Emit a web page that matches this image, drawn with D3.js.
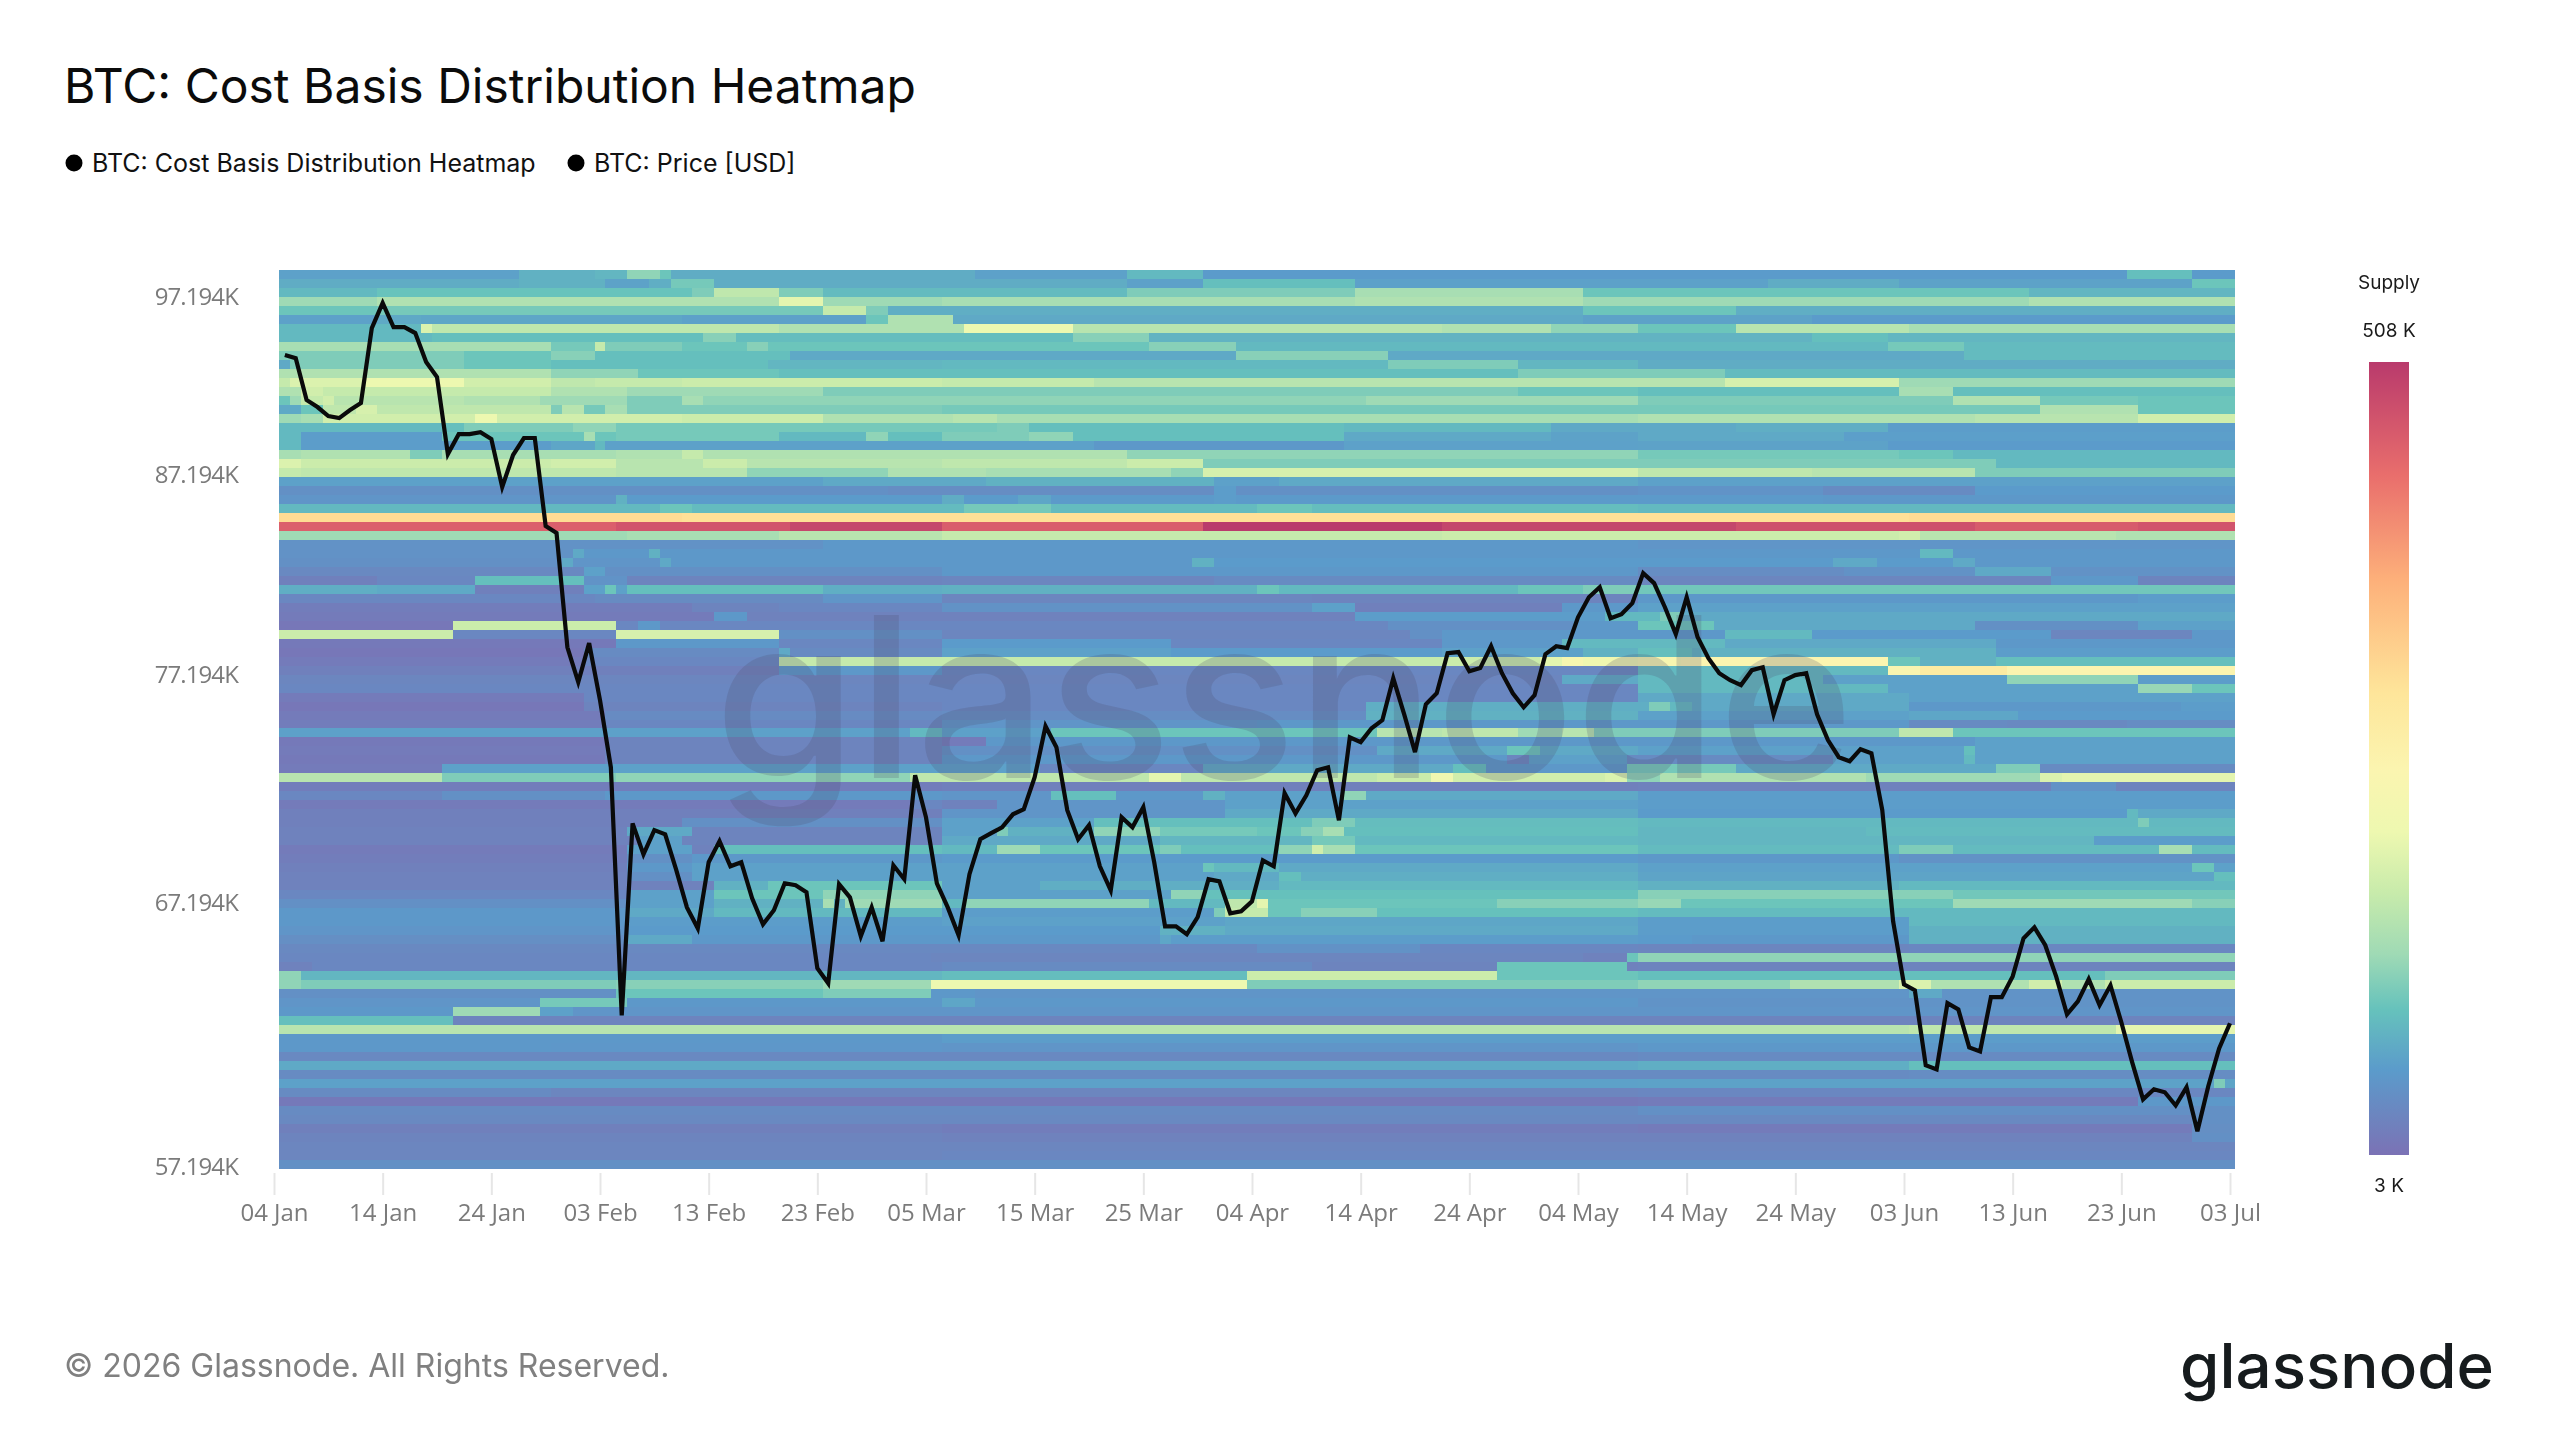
<!DOCTYPE html>
<html lang="en">
<head>
<meta charset="utf-8">
<title>BTC: Cost Basis Distribution Heatmap</title>
<script src="https://cdn.jsdelivr.net/npm/d3@7"></script>
<style>
  html, body { margin: 0; background: #fff; }
  svg { display: block; }
  text { font-family: Inter, "Noto Sans", sans-serif; }
  .axis text { font-family: "Open Sans", "Noto Sans", sans-serif; fill: #7b7b7b; font-size: 24px; }
  .axis line { stroke: #e6e6e6; stroke-width: 2px; }
  .axis path { display: none; }
  .y-axis text { letter-spacing: -0.9px; }
</style>
</head>
<body>
<svg id="chart" width="2560" height="1440"></svg>
<script>
// Daily BTC close in thousands of USD, starting 05 Jan
const priceK = [
  93.82,93.64,91.28,90.89,90.39,90.28,90.72,91.11,95.37,96.84,95.43,95.43,95.08,93.42,92.57,88.32,89.40,89.40,89.51,89.13,
  86.56,88.27,89.19,89.19,84.53,84.17,78.51,76.86,78.71,76.02,72.97,62.73,70.52,69.20,70.23,70.05,68.57,67.00,66.15,68.87,
  69.76,68.70,68.87,67.37,66.31,66.88,67.99,67.91,67.62,64.56,63.97,67.95,67.41,65.83,67.00,65.63,68.74,68.16,72.62,70.78,
  67.99,67.00,65.87,68.37,69.84,70.10,70.35,70.91,71.13,72.53,74.82,73.87,71.09,69.84,70.44,68.70,67.70,70.78,70.35,71.22,
  68.87,66.23,66.23,65.91,66.60,68.16,68.07,66.76,66.84,67.25,68.95,68.70,71.83,70.95,71.74,72.84,72.97,70.65,74.32,74.10,
  74.73,75.10,77.04,75.37,73.65,75.83,76.34,78.23,78.28,77.37,77.52,78.56,77.28,76.34,75.69,76.25,78.18,78.56,78.47,79.96,
  80.94,81.44,79.91,80.11,80.65,82.14,81.64,80.45,79.14,80.94,79.00,77.99,77.28,76.95,76.72,77.42,77.56,75.37,76.95,77.19,
  77.28,75.37,74.19,73.42,73.24,73.78,73.60,71.09,66.43,63.93,63.70,60.85,60.70,63.20,62.96,61.52,61.37,63.43,63.43,64.24,
  65.75,66.19,65.47,64.24,62.77,63.27,64.13,63.12,63.89,62.47,60.96,59.60,59.97,59.86,59.38,60.04,58.45,60.08,61.48,62.43
];

// Supply held per price bucket (thousands of BTC), top bucket first.
// Each bucket lists alternating day offset and supply, holding until the next offset.
const supplyK = [
  [0,5.5,22,6.5,29,6.8,32,10,35,8,36,6.2,64,5.5,78,7,85,5.2,170,7.5,176,5.2],
  [0,6.2,22,6.5,30,5.6,34,6.3,36,8.5,40,6.2,78,5.5,85,7.5,99,5.5,137,6.2,149,5.6,176,8],
  [0,7,9,7.8,38,9,40,15,46,9,50,7.2,78,9,99,12,120,8,161,6.8],
  [0,11,9,13,46,22,50,11,61,12,99,13,120,11,161,13],
  [0,8,9,8.5,50,16,54,9,56,6.3,120,8,134,6.3],
  [0,5.5,9,6,13,5.8,37,5.5,54,8,56,13,62,6,120,5.6,141,5.2],
  [0,7,13,20,14,15,46,13,63,24,73,14,107,13,117,10,125,8,134,14,150,12],
  [0,7,14,7.5,39,9.5,42,7.3,73,9.5,80,6.6,141,7.5,148,6.8],
  [0,12,25,8.5,29,16,30,9,37,8,43,9.5,45,8,80,9.5,88,7,148,8.5,155,7.2],
  [0,9,17,8,25,9.5,29,7.5,47,6,88,9.5,102,6,151,6.2,155,7.2],
  [0,6,1,9,17,8,25,7.5,45,6.8,61,7,102,9,114,6.8,125,6.2],
  [0,13,25,10,33,8,46,7.5,114,9,133,7.2],
  [0,16,1,20,8,24,17,18,25,15,29,16,37,17,61,16,75,14,133,19,149,11],
  [0,13,2,18,4,16,25,13,32,11,50,9,114,8,125,7.5,149,12,154,7.5],
  [0,8,1,11,2,16,4,18,5,14,17,13,24,11,32,9,37,12,39,10,100,11,125,9,154,13,162,8.5,171,8],
  [0,6,2,8,4,15,7,19,9,15,25,9,26,14,28,8.5,30,12,32,9,61,8.5,162,13,171,8],
  [0,11,2,12,4,18,18,24,20,18,37,17,50,13,62,14,66,12,125,13,156,14,171,18],
  [0,7,15,7.5,17,9,27,10,31,8.5,66,9,69,7.5,98,7,117,6,134,6.3,148,5.3],
  [0,7,2,5.3,15,8,28,12,29,8,31,8.5,46,7,54,10,56,7.5,61,9,69,10,73,7.5,98,6,117,5.6,125,6,144,5.4],
  [0,7,2,5.3,25,5.8,29,7,30,5.5,75,5,98,5.5,125,5.6,148,5.2],
  [0,12,2,13,12,9,15,12,31,13,37,16,39,13,78,10,125,8.5,149,8,154,7],
  [0,20,2,17,25,18,31,14,39,17,43,14,61,15,78,17,85,9,158,7],
  [0,16,2,15,31,14,43,10,56,13,65,12,82,10,85,19,125,15,141,14,156,9],
  [0,5.5,50,6,65,6.5,86,5.5,92,6,125,5.5],
  [0,4.5,56,4.3,86,5.3,88,4.5,125,4.7,142,4.2,156,5.2],
  [0,4.8,31,6.5,32,5.2,61,6.2,63,5.2,68,5.8,71,5.1,86,5.3,88,5.1,142,5],
  [0,7,35,8,38,7.2,63,8.5,71,7.2,90,8,95,7.3,125,7],
  [0,68,37,64,150,68],
  [0,300,31,350,47,420,61,310,85,500,107,430,134,370,156,320,171,350],
  [0,11,32,12,46,14,61,16,107,17,149,18,151,14,169,13],
  [0,4.6,50,5,125,4.8],
  [0,4.6,27,6,28,5,34,6.5,35,5,151,7,154,5],
  [0,4.5,26,6,27,4.8,35,6,36,5,84,6.5,86,5.2,143,6,147,5.2,154,6,156,5],
  [0,4.1,28,5.5,30,4.5,61,5,125,4.3,144,4.6,156,6,163,4.6],
  [0,3.6,9,4,18,7.5,28,4.7,32,3.8,61,3.9,86,4.2,125,3.9,163,5,171,3.8],
  [0,6.3,9,6,18,3.6,28,5.5,30,8,31,5.5,32,7.5,50,6.3,61,6.5,90,8,92,7,114,8,120,9,125,8.3],
  [0,4,29,4.2,50,4.8,61,3.9,95,3.8,125,5,171,5.3],
  [0,3.5,38,3.8,46,4,61,4.6,95,5.5,99,3.6,118,5,125,5.5],
  [0,3.4,40,5,43,3.7,99,5.3,122,7,127,9,129,6],
  [0,3.2,16,17,31,4,33,5,35,4,102,4.5,119,5,125,8,132,6,156,4.5,171,5.5],
  [0,17,16,4,31,19,46,4.5,61,3.9,104,4.5,107,5,133,7,141,5.2,163,3.9,176,5],
  [0,3.3,31,5,46,4,61,5.2,82,4,107,5,118,7,133,6,158,5],
  [0,3.2,28,4.2,46,6,47,4.2,61,5.5,82,5.2,107,5.5,120,6.5,125,7.5,130,6.5,158,5.3],
  [0,3.4,28,4,46,16,107,17,116,22,118,32,120,26,125,32,129,36,148,8,151,6.5,158,7.5],
  [0,3.6,46,5,61,4,125,7,148,34,151,50,159,37],
  [0,3.9,118,6,125,7,142,5.5,159,10,171,5.3],
  [0,4,125,7,148,5.5,171,10.5,176,8],
  [0,3.4,28,4,125,6,150,5.5],
  [0,3.2,28,3.8,61,4,100,6.3,126,9,128,7,130,6,150,5,175,5.3],
  [0,3.4,30,4.2,61,4.3,100,6.5,125,5.5,150,5.8,160,5.2],
  [0,3.5,30,4,61,4.8,90,5,150,4.2,159,4.1,170,4.3],
  [0,5.5,58,7,61,5.5,71,8,101,14,107,15,114,11,118,14,121,9,142,9,149,15,154,8],
  [0,3.3,30,3.8,61,3.4,65,5,156,5.5],
  [0,3.4,30,3.8,61,4.5,101,6,113,8,116,6,125,5.5,155,7.5,156,5.5],
  [0,3.3,30,3.8,61,5,113,3.9,115,5.5,124,4.2,143,5.5,155,7,156,5.5],
  [0,3.4,15,5.5,70,4,85,6,108,7.5,111,5,124,8.5,134,6,158,9,162,4.2],
  [0,14,15,9,31,10,58,15,80,22,83,15,94,15,101,17,106,26,108,18,122,20,124,10,127,13,146,11,162,20,164,22],
  [0,3.5,61,3.6,125,3.7,163,4.6,169,3.8],
  [0,4,15,4.5,30,5,61,4.8,71,7.5,77,5,85,6.5,87,5.5,98,10,100,6,125,5.3],
  [0,3.4,58,4,61,3.7,66,4.8,87,5.5,125,5.3],
  [0,3.6,61,4.8,87,6,125,5.2,170,7,171,6],
  [0,3.6,37,4.5,61,5.5,75,7.5,95,9,99,7.3,125,7,171,9,172,7],
  [0,3.7,32,6,38,3.8,61,5.5,66,9,67,6.5,75,10,81,8.5,90,8,94,9.5,96,12,98,7.5,125,6.8,146,7.2],
  [0,3.7,33,5.5,37,3.8,61,6,81,6.8,95,8.5,99,7,125,6.8,167,5.3],
  [0,3.4,32,5.5,38,3.7,40,7.5,61,7,66,11,70,8,81,9,83,7.5,92,10,95,18,96,12,99,8,125,7.2,149,9,154,7.2,173,12,176,7.2],
  [0,3.5,32,4.5,38,5,61,5.2,125,5,149,4.6],
  [0,3.6,32,5,38,5.5,85,8,86,7,92,6,125,5.5,176,8,178,5.5],
  [0,3.7,32,4.5,38,5.5,86,6,92,7.5,94,6.3,125,5.7,178,7.5],
  [0,3.7,40,6.5,45,8,61,5.5,70,6.3,92,7,125,6.5,149,7],
  [0,4,32,5.5,40,8,50,10,61,5.5,82,10,85,7.6,125,9.5,154,8.3],
  [0,4.5,32,5.5,40,6.5,50,12,51,6.5,52,11,61,7,63,10,80,7,87,15,90,22,91,8,112,9.5,125,10.5,129,8,154,11,176,9.5],
  [0,5,32,6,40,7,61,5.3,86,9,87,16,91,8,94,9.5,101,7.6,125,7.2,149,7],
  [0,5,32,5.3,61,5.5,87,5.8,125,5.3,150,7],
  [0,4.8,32,5.2,81,6.5,87,6,125,5.3,150,6.5],
  [0,4.4,32,6,38,5,81,5.8,82,5.3,125,5.2,130,5,150,6.5],
  [0,4.1,90,4.6,105,4,125,3.9,150,4],
  [0,4,60,3.9,120,3.7,124,8,125,10],
  [0,3.7,3,4,61,4.2,95,3.8,112,8,124,3.7,125,3.8],
  [0,10,2,6.8,61,7.3,89,17,112,8,125,7.5,168,9],
  [0,10,2,9,31,9.5,50,11,60,24,89,9,125,10,139,13,149,20,152,13,161,18,164,13,168,17],
  [0,4.5,31,8,50,9,60,5,64,4.8,150,6,153,4.7],
  [0,4.8,24,8.5,32,5,61,5.8,64,5,125,4.7],
  [0,5,16,11,24,5.5,27,4.8],
  [0,7.5,16,3.8],
  [0,14,150,15,169,22],
  [0,5,61,5.3],
  [0,5,25,4.9,61,4.8,125,5],
  [0,4.1,125,4.2],
  [0,6,125,6.3,150,7.5],
  [0,4.2,150,4.3],
  [0,5.5,125,5.6,178,9,179,5.7],
  [0,4.2,25,3.9,125,4],
  [0,3.3,125,3.4,171,5],
  [0,4.2,125,4.5],
  [0,4.1,176,4.5],
  [0,3.6,61,3.5,125,3.4,176,4.4],
  [0,3.8,61,3.7,176,4.5],
  [0,3.9],
  [0,3.9,61,4],
  [0,4.5]
];

const priceTicksK = [57.194, 67.194, 77.194, 87.194, 97.194];
const dateTicks = ["01-04","01-14","01-24","02-03","02-13","02-23","03-05","03-15","03-25","04-04",
                   "04-14","04-24","05-04","05-14","05-24","06-03","06-13","06-23","07-03"];
const legendItems = ["BTC: Cost Basis Distribution Heatmap", "BTC: Price [USD]"];
const supplyStopsK = [3, 5.2, 7.7, 11, 16.4, 24.3, 36, 60, 124, 244, 508];
const supplyStopColors = ["#7b72b5","#5b9bcb","#66c2bc","#9fdab5","#c8ebab","#eef8b0","#fbf5b0",
                          "#fee59a","#fdb07a","#e96e6c","#b93a6c"];

const svg = d3.select("#chart");
const utc = s => new Date(`2026-${s}T00:00:00Z`);
const firstDay = utc("01-05");
const dayOf = i => d3.utcDay.offset(firstDay, i);

// Plot frame and scales
const plot = { left: 279, right: 2233, top: 270, bottom: 1169 };
const x = d3.scaleUtc().domain([utc("01-04"), utc("07-03")]).range([274, 2230]);
const y = d3.scaleLog().domain([57.194, 97.194]).range([1167, 297]);
const bucket = d3.scaleBand().domain(d3.range(supplyK.length)).range([plot.top, plot.bottom]);
const color = d3.scaleLog().domain(supplyStopsK).range(supplyStopColors).interpolate(d3.interpolateRgb);

// Title and legend
svg.append("text").attr("x", 64).attr("y", 103).attr("font-size", 48).attr("fill", "#0b0b0b")
  .text("BTC: Cost Basis Distribution Heatmap");
const legendX = [74, 576];
legendItems.forEach((label, i) => {
  svg.append("circle").attr("cx", legendX[i]).attr("cy", 163).attr("r", 8.5).attr("fill", "#000");
  svg.append("text").attr("x", legendX[i] + 18).attr("y", 172).attr("font-size", 25).attr("fill", "#111").text(label);
});

const plotLayer = svg.append("g").style("filter", "blur(0.7px)");

// Heatmap cells: one rectangle per constant-supply run in each bucket
const runs = supplyK.flatMap((row, r) => d3.range(0, row.length, 2).map(k => ({
  r, start: row[k], end: k + 2 < row.length ? row[k + 2] : priceK.length, v: row[k + 1]
})));
const edge = i => x(d3.utcHour.offset(dayOf(i), -12));
plotLayer.append("g").attr("shape-rendering", "crispEdges").selectAll("rect").data(runs).join("rect")
  .attr("x", d => edge(d.start))
  .attr("width", d => edge(d.end) - edge(d.start))
  .attr("y", d => bucket(d.r))
  .attr("height", bucket.bandwidth() + 0.4)
  .attr("fill", d => color(d.v));

// Watermark across the plot
plotLayer.append("text").attr("x", 714).attr("y", 778).attr("font-size", 224).attr("font-weight", 500)
  .attr("textLength", 1140).attr("lengthAdjust", "spacingAndGlyphs")
  .attr("fill", "#4d4f6e").attr("fill-opacity", 0.22).text("glassnode");

// Price line
const line = d3.line().x((d, i) => x(dayOf(i))).y(d => y(d));
plotLayer.append("path").datum(priceK).attr("d", line).attr("fill", "none")
  .attr("stroke", "#0a0a0a").attr("stroke-width", 4.2).attr("stroke-linejoin", "miter");

// Axes
const xAxis = d3.axisBottom(x).tickValues(dateTicks.map(utc)).tickSize(22).tickPadding(9)
  .tickFormat(d3.utcFormat("%d %b"));
plotLayer.append("g").attr("class", "axis").attr("transform", `translate(0,${plot.bottom + 4})`).call(xAxis);
const yAxis = d3.axisLeft(y).tickValues(priceTicksK).tickSize(0).tickPadding(0)
  .tickFormat(d => d3.format(".3f")(d) + "K");
plotLayer.append("g").attr("class", "axis y-axis").attr("transform", "translate(238,0)").call(yAxis);

// Supply colour bar
const bar = { x: 2369, w: 40, top: 362, bottom: 1155 };
const barY = d3.scaleLog().domain([3, 508]).range([bar.bottom, bar.top]);
const grad = svg.append("defs").append("linearGradient").attr("id", "supplyRamp")
  .attr("x1", 0).attr("x2", 0).attr("y1", 1).attr("y2", 0);
grad.selectAll("stop").data(supplyStopsK).join("stop")
  .attr("offset", d => (bar.bottom - barY(d)) / (bar.bottom - bar.top))
  .attr("stop-color", d => color(d));
svg.append("rect").attr("x", bar.x).attr("y", bar.top).attr("width", bar.w)
  .attr("height", bar.bottom - bar.top).attr("fill", "url(#supplyRamp)");
[["Supply", 289], ["508 K", 337], ["3 K", 1192]].forEach(([label, py]) => {
  svg.append("text").attr("x", bar.x + bar.w / 2).attr("y", py).attr("text-anchor", "middle")
    .attr("font-size", 19).attr("fill", "#1a1a1a").text(label);
});

// Footer
svg.append("text").attr("x", 64).attr("y", 1377).attr("font-size", 32).attr("fill", "#808080")
  .text("© 2026 Glassnode. All Rights Reserved.");
svg.append("text").attr("x", 2180).attr("y", 1388).attr("font-size", 62).attr("font-weight", 500)
  .attr("textLength", 314).attr("lengthAdjust", "spacingAndGlyphs")
  .attr("fill", "#161b1d").text("glassnode");
</script>
</body>
</html>
